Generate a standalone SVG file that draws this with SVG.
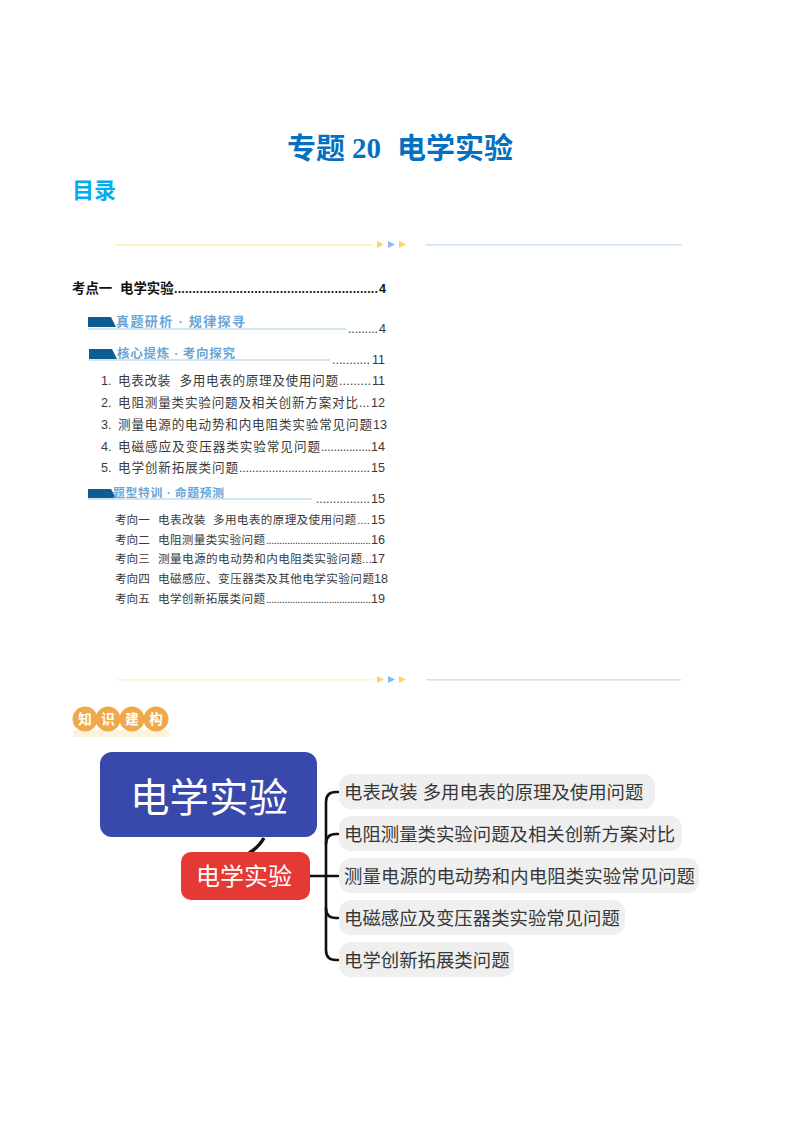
<svg xmlns="http://www.w3.org/2000/svg" width="800" height="1132" viewBox="0 0 800 1132">
<style>
text{font-family:"Liberation Sans","Noto Sans CJK SC",sans-serif;white-space:pre}
.toc{font-size:12.6px;fill:#3a3a3a}
.toc2{font-size:11.6px;fill:#3a3a3a}
.p{font-size:12.6px;fill:#3a3a3a;text-anchor:end}
.h{font-family:"Liberation Serif","Noto Sans CJK SC",serif;font-size:13px;font-weight:700;fill:#6aa5d6}
.pill{fill:#efefef}
.lab{font-size:18.4px;fill:#383838}
.con{fill:none;stroke:#111;stroke-width:2.6;stroke-linecap:round}
.ky{fill:#fdeebc}.kb{fill:#cfe0f7}
.tag{fill:#efa94a}
.tagt{font-size:13.5px;font-weight:700;fill:#fff;text-anchor:middle}
.bar{fill:#0f5c92}
.ul{stroke:#a9cbe4;stroke-width:1;fill:none}
</style>
<g id="title">
<text x="287" y="159" font-size="29" font-weight="700" fill="#0670c0">专题</text>
<text x="352" y="158" font-size="29" font-weight="700" fill="#0670c0" style="font-family:'Liberation Serif',serif">20</text>
<text x="397" y="159" font-size="29" font-weight="700" fill="#0670c0">电学实验</text>
<text x="72" y="198" font-size="22" font-weight="700" fill="#00aeef">目录</text>
</g>
<g id="divider-top">
<rect x="115" y="244" width="258" height="1.6" class="ky"/>
<path d="M377 241l7 3.500-7 3.500z" fill="#fbd46d"/><path d="M388 241l7 3.500-7 3.500z" fill="#8fb8ee"/><path d="M399 241l7 3.500-7 3.500z" fill="#fbd46d"/>
<rect x="426" y="244" width="256" height="1.6" class="kb"/>
</g>
<g id="toc">
<text x="72" y="293" font-size="13.4" font-weight="700" fill="#111">考点一</text>
<text x="120" y="293" font-size="13.4" font-weight="700" fill="#111">电学实验</text>
<text x="174" y="293" font-size="12.6" font-weight="700" fill="#111" textLength="204">........................................................</text>
<text x="386" y="293" class="p" font-weight="700" style="fill:#111">4</text>
<g id="h1"><path d="M88 317h23l5 10h-28z" class="bar"/><path d="M88 329H346" class="ul"/><text x="116" y="326" class="h" textLength="129">真题研析 · 规律探寻</text>
<text x="348" y="333" font-size="12.6" fill="#3a3a3a" textLength="30">.........</text><text x="386" y="333" class="p">4</text></g>
<g id="h2"><path d="M89 349h23l5 10h-28z" class="bar"/><path d="M89 360H330" class="ul"/><text x="117" y="358" class="h" textLength="118" font-size="12.500" style="font-size:12.500px">核心提炼 · 考向探究</text>
<text x="332" y="364" font-size="12.6" fill="#3a3a3a" textLength="38">...........</text><text x="385" y="364" class="p">11</text></g>
<text x="101" y="385" class="toc">1.</text><text x="118" y="385" class="toc" textLength="220">电表改装  多用电表的原理及使用问题</text><text x="339" y="385" class="toc" textLength="32">.........</text><text x="385" y="385" class="p">11</text>
<text x="101" y="407" class="toc">2.</text><text x="118" y="407" class="toc" textLength="240">电阻测量类实验问题及相关创新方案对比</text><text x="359" y="407" class="toc">...</text><text x="385" y="407" class="p">12</text>
<text x="101" y="429" class="toc">3.</text><text x="118" y="429" class="toc" textLength="254">测量电源的电动势和内电阻类实验常见问题</text><text x="387" y="429" class="p">13</text>
<text x="101" y="451" class="toc">4.</text><text x="118" y="451" class="toc" textLength="202">电磁感应及变压器类实验常见问题</text><text x="321" y="451" class="toc" textLength="50">................</text><text x="385" y="451" class="p">14</text>
<text x="101" y="472" class="toc">5.</text><text x="118" y="472" class="toc" textLength="120">电学创新拓展类问题</text><text x="239" y="472" class="toc" textLength="131">........................................</text><text x="385" y="472" class="p">15</text>
<g id="h3"><path d="M88 489h23l5 9h-28z" class="bar"/><path d="M88 499H312" class="ul"/><text x="113" y="497" class="h" textLength="111" style="font-size:11.800px">题型特训 · 命题预测</text>
<text x="316" y="503" font-size="12.6" fill="#3a3a3a" textLength="54">................</text><text x="385" y="503" class="p">15</text></g>
<text x="115" y="524" class="toc2">考向一</text><text x="158" y="524" class="toc2" textLength="198">电表改装  多用电表的原理及使用问题</text><text x="357" y="524" class="toc2">....</text><text x="385" y="524" class="p">15</text>
<text x="115" y="544" class="toc2">考向二</text><text x="158" y="544" class="toc2" textLength="107">电阻测量类实验问题</text><text x="266" y="544" class="toc2" textLength="105">........................................</text><text x="385" y="544" class="p">16</text>
<text x="115" y="563" class="toc2">考向三</text><text x="158" y="563" class="toc2" textLength="204">测量电源的电动势和内电阻类实验问题</text><text x="362" y="563" class="toc2">...</text><text x="385" y="563" class="p">17</text>
<text x="115" y="583" class="toc2">考向四</text><text x="158" y="583" class="toc2" textLength="216">电磁感应、变压器类及其他电学实验问题</text><text x="388" y="583" class="p">18</text>
<text x="115" y="603" class="toc2">考向五</text><text x="158" y="603" class="toc2" textLength="107">电学创新拓展类问题</text><text x="266" y="603" class="toc2" textLength="105">........................................</text><text x="385" y="603" class="p">19</text>
</g>
<g id="divider-bottom">
<rect x="116" y="679" width="258" height="1.6" fill="#fbf6cf"/>
<path d="M377 676l7 3.500-7 3.500z" fill="#fbd46d"/><path d="M388 676l7 3.500-7 3.500z" fill="#7fb8ee"/><path d="M399 676l7 3.500-7 3.500z" fill="#fbd46d"/>
<rect x="426" y="679" width="255" height="1.6" class="kb"/>
</g>
<g id="tag">
<rect x="73" y="730" width="96" height="7" fill="#fdf3dc"/>
<circle cx="85" cy="719" r="12.500" class="tag"/><circle cx="108" cy="719" r="12.500" class="tag"/><circle cx="132" cy="719" r="12.500" class="tag"/><circle cx="156" cy="719" r="12.500" class="tag"/>
<text x="85" y="724" class="tagt">知</text><text x="108" y="724" class="tagt">识</text><text x="132" y="724" class="tagt">建</text><text x="156" y="724" class="tagt">构</text>
</g>
<g id="connectors">
<path d="M264 838Q258 848 249 853" class="con" style="stroke-width:3.400;stroke-linecap:butt"/>
<path d="M310 876H338" class="con"/>
<path d="M338 792H336Q326 792 326 802V950Q326 960 336 960H338" class="con"/>
<path d="M338 834H336Q326 834 326 844" class="con"/>
<path d="M326 908Q326 918 336 918H338" class="con"/>
</g>
<g id="node-root"><rect x="100" y="752" width="217" height="85" rx="12" fill="#3949ab"/><text x="130" y="812" font-size="39.500" fill="#fff" textLength="158">电学实验</text></g>
<g id="node-main"><rect x="181" y="852" width="129" height="48" rx="10" fill="#e53935"/><text x="244" y="885" font-size="24" fill="#fff" text-anchor="middle">电学实验</text></g>
<g id="node-1"><rect x="339" y="774" width="316" height="35" rx="12" class="pill"/><text x="344" y="799" class="lab">电表改装 多用电表的原理及使用问题</text></g>
<g id="node-2"><rect x="339" y="816" width="343" height="35" rx="12" class="pill"/><text x="344" y="841" class="lab">电阻测量类实验问题及相关创新方案对比</text></g>
<g id="node-3"><rect x="339" y="858" width="360" height="35" rx="12" class="pill"/><text x="344" y="883" class="lab" textLength="351">测量电源的电动势和内电阻类实验常见问题</text></g>
<g id="node-4"><rect x="339" y="900" width="286" height="35" rx="12" class="pill"/><text x="344" y="925" class="lab">电磁感应及变压器类实验常见问题</text></g>
<g id="node-5"><rect x="339" y="942" width="175" height="35" rx="12" class="pill"/><text x="344" y="967" class="lab">电学创新拓展类问题</text></g>
</svg>
